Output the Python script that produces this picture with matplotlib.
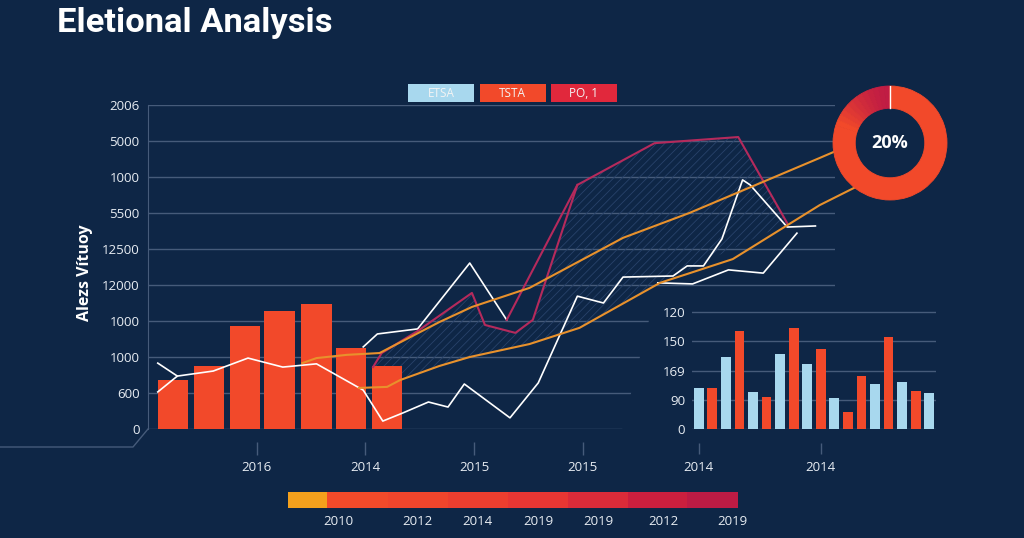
import matplotlib
matplotlib.use("Agg")
import matplotlib.pyplot as plt
import numpy as np
from matplotlib.patches import Rectangle, Polygon
from matplotlib.lines import Line2D
from matplotlib.colors import to_rgb

# ---- data ----
main_ytick_labels = ['0', '600', '1000', '1000', '12000', '12500', '5500', '1000', '5000', '2006']
main_xtick_labels = ['2016', '2014', '2015', '2015']

bar_x = [0.23, 0.56, 0.89, 1.21, 1.55, 1.87, 2.20]
bar_h = [1.36, 1.75, 2.86, 3.28, 3.47, 2.25, 1.75]

white_low_x = [0.09, 0.27, 0.60, 0.92, 1.24, 1.55, 1.98, 2.16, 2.34, 2.58, 2.76, 2.91, 3.33, 3.59, 3.95, 4.19, 4.37, 4.83, 4.96, 5.11, 5.28, 5.47, 5.54, 5.88, 6.14]
white_low_y = [1.03, 1.47, 1.61, 1.97, 1.72, 1.81, 1.08, 0.22, 0.44, 0.75, 0.61, 1.25, 0.31, 1.28, 3.69, 3.50, 4.22, 4.25, 4.53, 4.53, 5.28, 6.92, 6.78, 5.61, 5.64]
white_fork_x = [0.09, 0.27]
white_fork_y = [1.83, 1.47]
white_up_x = [1.98, 2.11, 2.48, 2.96, 3.30]
white_up_y = [2.28, 2.64, 2.78, 4.61, 3.03]
white_right_x = [4.69, 5.01, 5.34, 5.66, 5.97]
white_right_y = [4.06, 4.03, 4.42, 4.33, 5.44]

mag_x = [2.07, 2.15, 2.48, 2.98, 3.10, 3.38, 3.54, 3.95, 4.66, 5.43, 5.88]
mag_y = [1.72, 2.11, 2.72, 3.78, 2.89, 2.67, 3.03, 6.78, 7.94, 8.11, 5.72]
mag_branch_x = [3.30, 3.67, 3.95]
mag_branch_y = [3.03, 5.17, 6.78]

orange_up_x = [1.42, 1.55, 1.83, 2.13, 2.68, 2.98, 3.51, 4.37, 4.98, 6.18, 6.35]
orange_up_y = [1.83, 1.97, 2.06, 2.11, 2.97, 3.39, 3.92, 5.31, 6.00, 7.53, 7.75]
orange_low_x = [1.94, 2.20, 2.32, 2.68, 2.96, 3.51, 3.97, 4.71, 5.38, 6.18, 6.55]
orange_low_y = [1.14, 1.17, 1.36, 1.75, 2.00, 2.36, 2.81, 4.06, 4.72, 6.22, 6.78]

legend_labels = ['ETSA', 'TSTA', 'PO, 1']

donut_share = 20

inset_ytick_labels = ['0', '90', '169', '150', '120']
inset_colors = ['b', 'r', 'b', 'r', 'b', 'r', 'b', 'r', 'b', 'r', 'b', 'r', 'r', 'b', 'r', 'b', 'r', 'b']
inset_h = [1.40, 1.40, 2.46, 3.35, 1.26, 1.09, 2.56, 3.45, 2.22, 2.74, 1.06, 0.58, 1.81, 1.54, 3.15, 1.61, 1.30, 1.23]
inset_xtick_labels = ['2014', '2014']

band_years = ['2010', '2012', '2014', '2019', '2019', '2012', '2019']

# ---- styles ----
BG = '#0e2646'
GRID = '#465b7a'
TXT = '#e8edf3'
RED = '#f2492a'
BLUE = '#a8d8ee'
CRIMSON = '#e1283c'
ORANGE = '#e8912c'
MAGENTA = '#b52a5c'
FONT = ['Open Sans', 'DejaVu Sans']

W, H = 1024, 538
plt.rcParams['font.family'] = FONT
plt.rcParams['hatch.linewidth'] = 0.6


def fx(px):
    return px / W


def fy(py):
    return 1 - py / H


fig = plt.figure(figsize=(10.24, 5.38), dpi=100, facecolor=BG)

# title
fig.text(fx(57), fy(23), 'Eletional Analysis', family=['Roboto', 'DejaVu Sans'],
         weight='bold', fontsize=24.8, color='white', ha='left', va='center')

# main axes
ax = fig.add_axes([fx(148), fy(429), fx(835) - fx(148), fy(105) - fy(429)])
ax.set_facecolor(BG)
ax.set_xlim(0, (835 - 148) / 108.7)
ax.set_ylim(0, 9)
ax.set_yticks(range(len(main_ytick_labels)))
ax.set_yticklabels(main_ytick_labels)
ax.set_xticks(range(1, len(main_xtick_labels) + 1))
ax.set_xticklabels(main_xtick_labels)
ax.tick_params(axis='y', length=0, pad=6, labelsize=9.5, labelcolor=TXT)
ax.tick_params(axis='x', length=9, width=1, color=GRID, pad=5, labelsize=9.5, labelcolor=TXT)
for s in ['top', 'right']:
    ax.spines[s].set_visible(False)
ax.spines['left'].set_color(GRID)
ax.spines['bottom'].set_position(('outward', 9))
ax.spines['bottom'].set_visible(False)
for i in range(len(main_ytick_labels)):
    ax.axhline(i, color=GRID, lw=1, zorder=0)

ax.bar(bar_x, bar_h, width=0.28, color=RED, zorder=2)

# hatched band between magenta and lower orange
band = np.column_stack([np.r_[mag_x, orange_low_x[1:8][::-1]],
                        np.r_[mag_y, orange_low_y[1:8][::-1]]])
ax.add_patch(Polygon(band, closed=True, facecolor='none', edgecolor='#28426a',
                     hatch='////', lw=0, zorder=1))

ax.plot(white_fork_x, white_fork_y, color='white', lw=1.2, zorder=3)
ax.plot(white_low_x, white_low_y, color='white', lw=1.2, zorder=3)
ax.plot(white_up_x, white_up_y, color='white', lw=1.2, zorder=3)
ax.plot(white_right_x, white_right_y, color='white', lw=1.2, zorder=3)
ax.plot(mag_x, mag_y, color=MAGENTA, lw=1.5, zorder=3)
ax.plot(mag_branch_x, mag_branch_y, color=MAGENTA, lw=1.5, zorder=3)
ax.plot(orange_up_x, orange_up_y, color=ORANGE, lw=1.5, zorder=4, clip_on=False)
ax.plot(orange_low_x, orange_low_y, color=ORANGE, lw=1.5, zorder=4, clip_on=False)

ax.set_ylabel('Alezs Vítuoy', color='white', weight='bold', fontsize=11.5)
ax.yaxis.set_label_coords((93 - 148) / 687, (429 - 273) / 324)

# lower-left decorative corner
fig.add_artist(Line2D([fx(148), fx(133), fx(0)], [fy(429), fy(447), fy(447)],
                      color=GRID, lw=1))

# occluder behind inset
fig.add_artist(Polygon([(fx(654), fy(300)), (fx(960), fy(300)), (fx(960), fy(475)),
                        (fx(622), fy(475)), (fx(622), fy(430))],
                       closed=True, facecolor=BG, edgecolor='none', zorder=1))

# legend boxes
leg_colors = [BLUE, RED, CRIMSON]
for i, (lab, c) in enumerate(zip(legend_labels, leg_colors)):
    x0 = 408 + i * 71.5
    fig.add_artist(Rectangle((fx(x0), fy(102)), fx(66), fy(84) - fy(102),
                             facecolor=c, edgecolor='none', zorder=2))
    fig.text(fx(x0 + 33), fy(93.5), lab, color='#f4f4f4', fontsize=8.5,
             ha='center', va='center', zorder=3)

# inset bar chart
iax = fig.add_axes([fx(692), fy(429), fx(936) - fx(692), fy(305) - fy(429)], zorder=3)
iax.set_facecolor(BG)
n = len(inset_h)
iax.bar(range(n), inset_h, width=0.72,
        color=[BLUE if c == 'b' else RED for c in inset_colors], zorder=2)
iax.set_xlim(-0.5, n - 0.5)
iax.set_ylim(0, 4.24)
iax.set_yticks(range(len(inset_ytick_labels)))
iax.set_yticklabels(inset_ytick_labels)
iax.set_xticks([0, 9])
iax.set_xticklabels(inset_xtick_labels)
for i in range(len(inset_ytick_labels)):
    iax.axhline(i, color=GRID, lw=1, zorder=0)
for s in iax.spines.values():
    s.set_visible(False)
iax.spines['bottom'].set_position(('outward', 10))
iax.tick_params(axis='y', length=0, pad=5, labelsize=9.5, labelcolor=TXT)
iax.tick_params(axis='x', length=8, width=1, color=GRID, pad=5, labelsize=9.5, labelcolor=TXT)

# donut, the share drawn as a crimson-to-red gradient
dax = fig.add_axes([fx(833), fy(200), fx(114), fy(0) - fy(114)], zorder=4)
dax.set_facecolor('none')
steps = 12
c0, c1 = np.array(to_rgb('#c01c44')), np.array(to_rgb(RED))
grad = [tuple(c0 + (c1 - c0) * t) for t in np.linspace(0, 1, steps) ** 1.5]
vals = np.r_[np.full(steps, donut_share / steps), 100 - donut_share]
cols = grad + [RED]
wedges, _ = dax.pie(vals, colors=cols, startangle=90, counterclock=True,
                    wedgeprops=dict(width=0.39))
for w, c in zip(wedges, cols):
    w.set_edgecolor(c)
    w.set_linewidth(0.6)
dax.plot([0, 0], [0.61, 1.0], color='white', lw=1)
dax.text(0, 0, f'{donut_share}%', color='white', weight='bold', fontsize=13,
         ha='center', va='center')
dax.set_aspect('equal')
dax.set_xlim(-1.0, 1.0)
dax.set_ylim(-1.0, 1.0)
dax.axis('off')

# bottom colour band
bax = fig.add_axes([fx(288), fy(508), fx(450), fy(492) - fy(508)])
seg_w = [39, 61, 60, 60, 60, 60, 59, 51]
seg_c = ['#f4a01c', '#f24a2a', '#f0452c', '#ec3e2f', '#e73633', '#db2b39', '#cb1f3e', '#bd1b44']
bax.barh(0, seg_w, left=np.r_[0, np.cumsum(seg_w)[:-1]], height=1, color=seg_c)
bax.set_xlim(0, sum(seg_w))
bax.set_ylim(-0.5, 0.5)
bax.set_yticks([])
bax.set_xticks([50, 129, 189, 250, 310, 375, 444])
bax.set_xticklabels(band_years)
bax.tick_params(axis='x', length=0, pad=5, labelsize=9.5, labelcolor=TXT)
for s in bax.spines.values():
    s.set_visible(False)

fig.savefig('out.png', dpi=100, facecolor=BG)
